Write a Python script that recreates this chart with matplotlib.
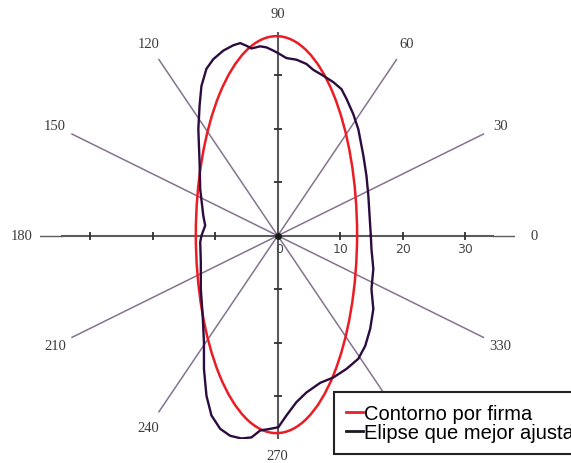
import matplotlib.pyplot as plt
import numpy as np
from matplotlib.patches import Ellipse
from matplotlib.lines import Line2D

# signature contour, horizontal / vertical components (same units as the radial axis)
contour_x = [14.9, 14.7, 14.5, 14.2, 13.7, 12.9, 12.1, 11.0, 10.2, 8.9, 7.3, 5.7,
             4.6, 3.0, 1.4, 0.1, -0.7, -1.8, -2.8, -4.2, -5.0, -6.0, -7.1, -8.7,
             -10.3, -11.4, -12.2, -12.5, -12.7, -12.5, -12.4, -11.9, -11.6, -12.2,
             -12.4, -12.3, -12.3, -12.0, -11.8, -11.8, -11.4, -10.6, -9.2, -7.6,
             -5.8, -4.2, -2.8, -1.2, 0.1, 1.4, 3.0, 4.6, 6.8, 8.9, 11.0, 12.9,
             14.0, 14.8, 15.3, 15.0, 15.3, 15.0, 14.9]
contour_y = [0.0, 3.7, 7.5, 11.2, 15.0, 19.9, 22.7, 25.6, 27.4, 28.7, 29.9, 31.0,
             32.1, 32.9, 33.2, 34.1, 34.6, 35.2, 35.4, 35.0, 35.5, 36.0, 35.6, 34.6,
             33.0, 31.2, 28.0, 24.3, 19.9, 13.7, 8.7, 3.7, 1.9, 0.0,
             -1.2, -5.0, -10.0, -15.0, -19.9, -24.9, -29.9, -33.6, -36.1, -37.4,
             -37.9, -37.7, -36.4, -36.1, -35.8, -33.6, -31.1, -29.3, -27.5, -26.5,
             -24.9, -23.0, -20.6, -17.4, -13.7, -10.0, -6.2, -2.5, 0.0]

# best fit ellipse: centre and semi axes
ell_center = (-0.2, 0.2)
ell_a = 12.9
ell_b = 37.1

r_max = 38
spokes = [30, 60, 120, 150, 210, 240, 300, 330]
# 300 sits under the legend box
angle_labels = [0, 30, 60, 90, 120, 150, 180, 210, 240, 270, 330]
ticks = [10, 20, 30]

fig = plt.figure(figsize=(5.71, 4.64), dpi=100)
ax = fig.add_axes([0.0704, 0.0517, 0.8319, 0.8763])
ax.set_xlim(-r_max, r_max)
ax.set_ylim(-r_max, r_max)
ax.axis('off')

# spokes
for a in spokes:
    t = np.radians(a)
    ax.plot([0, r_max * np.cos(t)], [0, r_max * np.sin(t)], color='#857391', lw=1.1, zorder=1)

# main axes
axc = '#5b5b5b'
ax.plot([-34.5, 34.5], [0, 0], color=axc, lw=1.5, zorder=2)
ax.plot([-r_max, -34.5], [0, 0], color=axc, lw=1.0, zorder=2)
ax.plot([34.5, r_max], [0, 0], color=axc, lw=1.0, zorder=2)
ax.plot([0, 0], [-r_max, r_max], color=axc, lw=1.5, zorder=2)
ax.plot(0, 0, 'o', color='#1a1a1a', ms=4, zorder=3)

for v in ticks:
    for s in (-1, 1):
        ax.plot(s * v, 0, marker='|', color='#303030', ms=6, mew=1.3, zorder=3)
        ax.plot(0, s * v, marker='_', color='#303030', ms=6, mew=1.3, zorder=3)
    ax.annotate(str(v), (v, 0), xytext=(0, -6), textcoords='offset pixels',
                ha='center', va='top', fontsize=9, color='#4a4a4a',
                family='DejaVu Sans')
ax.annotate('0', (0, 0), xytext=(1.5, -6), textcoords='offset pixels',
            ha='center', va='top', fontsize=9, color='#4a4a4a', family='DejaVu Sans')

# angle labels just past the end of each spoke
fig.canvas.draw()
p0 = ax.transData.transform((0, 0))
for a in angle_labels:
    t = np.radians(a)
    end = (r_max * np.cos(t), r_max * np.sin(t))
    d = ax.transData.transform(end) - p0
    gap = 16 if a == 270 else 19
    d = d / np.hypot(*d) * gap
    ax.annotate(str(a), end, xytext=(d[0], d[1]), textcoords='offset pixels',
                ha='center', va='center', fontsize=10.5, color='#3c3c3c',
                family='Liberation Serif', annotation_clip=False)

ax.add_patch(Ellipse(ell_center, 2 * ell_a, 2 * ell_b, fill=False,
                     edgecolor='#ec1c24', lw=1.8, zorder=4))
ax.plot(contour_x, contour_y, color='#2c0c3e', lw=1.7, zorder=5)

handles = [Line2D([], [], color='#e8202a', lw=2),
           Line2D([], [], color='#1a1a24', lw=2)]
leg = ax.legend(handles, ['Contorno por firma', 'Elipse que mejor ajusta'],
                loc='upper left', bbox_to_anchor=(334 / 571, 1 - 393 / 464),
                bbox_transform=fig.transFigure, borderaxespad=0, fancybox=False,
                framealpha=1, edgecolor='#222222', handlelength=0.85,
                handletextpad=0.05, borderpad=0.6, labelspacing=0.0,
                prop={'family': 'Liberation Sans', 'size': 14.5})
leg.get_frame().set_linewidth(1.5)
leg.set_zorder(10)

fig.savefig('out.png', dpi=100, facecolor='white')
